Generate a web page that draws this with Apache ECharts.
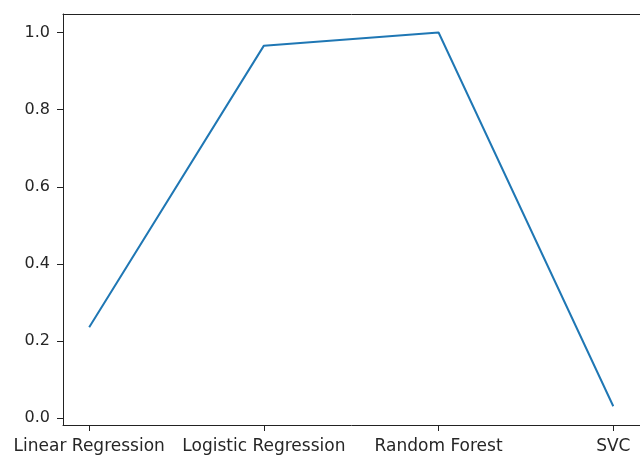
<!DOCTYPE html>
<html>
<head>
<meta charset="utf-8">
<script src="https://cdn.jsdelivr.net/npm/echarts@6/dist/echarts.min.js"></script>
<style>html,body{margin:0;padding:0;background:#fff;}#c{width:640px;height:457px;}</style>
</head>
<body>
<div id="c"></div>
<script>
const categories = ['Linear Regression', 'Logistic Regression', 'Random Forest', 'SVC'];
const scores = [0.236, 0.966, 1.0, 0.031];
const yTicks = [0.0, 0.2, 0.4, 0.6, 0.8, 1.0];

const xIdx = categories.map((_, i) => i);
const chart = echarts.init(document.getElementById('c'), null, {renderer: 'canvas'});
const spine = {show: true, onZero: false, lineStyle: {color: '#222', width: 1}};
chart.setOption({
  animation: false,
  backgroundColor: '#fff',
  grid: {left: 63, right: 0, top: 14, bottom: 32, show: false},
  xAxis: [{
    type: 'value', min: -0.15, max: 3.153,
    axisLine: spine,
    axisTick: {show: true, length: 6, customValues: xIdx, lineStyle: {color: '#222'}},
    axisLabel: {customValues: xIdx, margin: 13, formatter: v => categories[Math.round(v)],
      fontFamily: 'DejaVu Sans', fontSize: 17, color: '#262626'},
    splitLine: {show: false}
  }, {
    type: 'value', position: 'top', min: -0.15, max: 3.153,
    axisLine: spine, axisTick: {show: false}, axisLabel: {show: false}, splitLine: {show: false}
  }],
  yAxis: {
    type: 'value', min: -0.0175, max: 1.048,
    axisLine: spine,
    axisTick: {show: true, length: 6, customValues: yTicks, lineStyle: {color: '#222'}},
    axisLabel: {customValues: yTicks, margin: 13, formatter: v => v.toFixed(1),
      fontFamily: 'DejaVu Sans', fontSize: 16, color: '#262626'},
    splitLine: {show: false}
  },
  series: [{
    type: 'line',
    xAxisIndex: 0,
    data: scores.map((v, i) => [xIdx[i], v]),
    showSymbol: false,
    lineStyle: {color: '#1f77b4', width: 2},
    itemStyle: {color: '#1f77b4'}
  }]
});
</script>
</body>
</html>
